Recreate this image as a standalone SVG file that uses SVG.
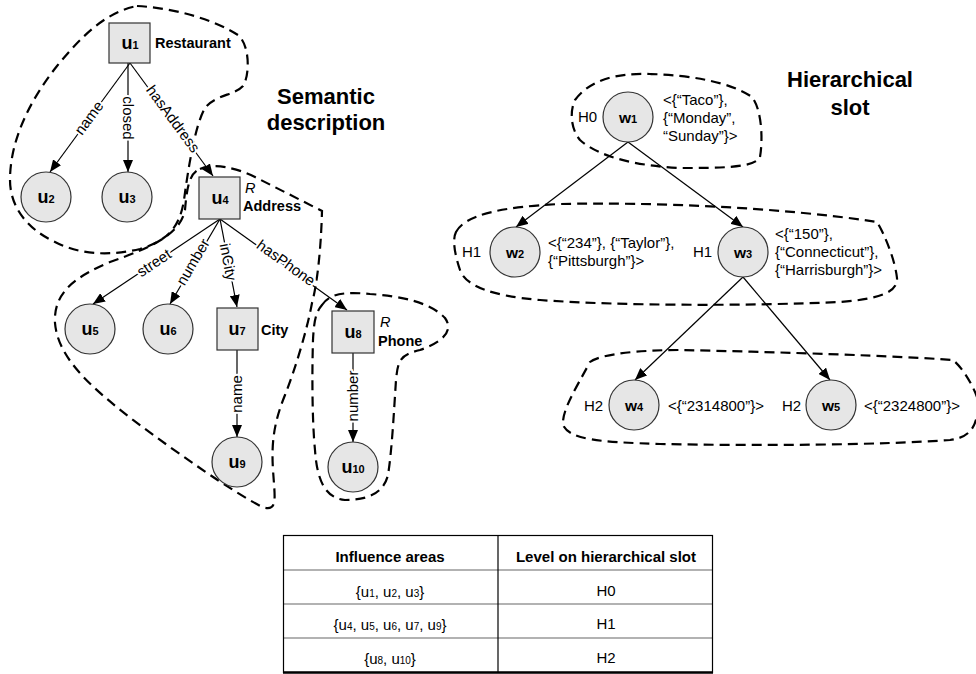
<svg xmlns="http://www.w3.org/2000/svg" width="976" height="674" viewBox="0 0 976 674">
<style>
text{font-family:"Liberation Sans",Arial,sans-serif;fill:#000}
.area{fill:none;stroke:#000;stroke-width:2.2;stroke-dasharray:10 6}
.edge{fill:none;stroke:#000;stroke-width:1.2;marker-end:url(#arr)}
.el{font-size:15px;text-anchor:middle;paint-order:stroke;stroke:#fff;stroke-width:4px;stroke-linejoin:round}
.node{fill:#e6e6e6;stroke:#333;stroke-width:1.2}
.nl{font-size:18px;font-weight:bold;text-anchor:middle}
.wl{font-size:15.5px;font-weight:bold;text-anchor:middle}
.sub{font-size:11px}
.tsub{font-size:10px}
.cls{font-size:14.5px;font-weight:bold}
.r{font-size:14.5px;font-style:italic}
.title{font-size:22px;font-weight:bold;text-anchor:middle}
.val{font-size:15px}
.th{font-size:15px;font-weight:bold;text-anchor:middle}
.td{font-size:15px;text-anchor:middle}
</style>
<defs>
<marker id="arr" markerWidth="12" markerHeight="10" refX="12" refY="5" orient="auto" markerUnits="userSpaceOnUse">
<path d="M0,0 L12,5 L0,10 z" fill="#000"/>
</marker>
</defs>
<rect width="976" height="674" fill="#fff"/>

<g id="areas">
<path class="area" d="M137,6 C175,8 215,20 238,35 C250,45 250,75 243,86 C235,95 215,95 205,108 C195,125 188,170 184,200 C180,225 170,240 140,249 C110,256 80,255 55,242 C25,228 10,205 10,180 C10,140 30,100 57,66 C80,38 105,12 137,6 Z"/>
<path class="area" d="M200,169 C212,163 235,167 255,177 L322,211 C321,250 317,285 312,303 C307,330 295,370 285,395 C275,420 271,440 273,470 C275,500 278,512 262,507 C230,490 180,455 133,420 C95,390 58,360 55,323 C53,290 80,275 110,262 C150,248 180,235 185,210 C187,185 190,173 200,169 Z"/>
<path class="area" d="M322,305 C330,292 350,292 370,294 C400,296 430,302 445,318 C455,332 440,343 420,350 C400,355 398,360 396,380 C394,410 392,450 388,475 C383,495 365,500 345,500 C325,498 317,480 315,450 C312,420 312,370 313,340 C314,320 316,312 322,305 Z"/>
<path class="area" d="M575,100 C590,80 615,73 650,74 C690,75 730,82 752,97 C762,110 763,140 760,157 C755,168 720,168 680,168 C640,166 600,158 580,140 C570,128 570,110 575,100 Z"/>
<path class="area" d="M456,232 C465,215 500,207 560,204 C650,202 780,207 877,222 C885,235 895,260 897,278 C898,292 880,299 840,302 C750,306 620,306 540,300 C490,296 465,285 460,270 C455,255 452,240 456,232 Z"/>
<path class="area" d="M590,362 C600,354 640,350 680,350 C780,352 900,356 953,360 C965,370 975,390 978,400 C978,420 975,437 950,440 C880,445 760,446 660,444 C600,442 570,440 563,425 C562,410 575,390 590,362 Z"/>
</g>

<g id="connectors">
<line class="edge" x1="130" y1="63" x2="50" y2="172"/>
<line class="edge" x1="128" y1="63" x2="128" y2="172"/>
<line class="edge" x1="130" y1="63" x2="213" y2="176"/>
<line class="edge" x1="220" y1="219" x2="93" y2="304"/>
<line class="edge" x1="220" y1="219" x2="170" y2="304"/>
<line class="edge" x1="220" y1="219" x2="237" y2="307"/>
<line class="edge" x1="220" y1="219" x2="347" y2="310"/>
<line class="edge" x1="237" y1="350" x2="237" y2="437"/>
<line class="edge" x1="353" y1="353" x2="353" y2="442"/>
<line class="edge" x1="628" y1="142" x2="516" y2="227"/>
<line class="edge" x1="628" y1="142" x2="743" y2="227"/>
<line class="edge" x1="743" y1="277" x2="635" y2="380"/>
<line class="edge" x1="743" y1="277" x2="830" y2="380"/>
<text class="el" transform="translate(89,118) rotate(-53.7)" y="5">name</text>
<text class="el" transform="translate(128,118) rotate(90)" y="5">closed</text>
<text class="el" transform="translate(173,119) rotate(53.7)" y="5">hasAddress</text>
<text class="el" transform="translate(154,263) rotate(-33.8)" y="5">street</text>
<text class="el" transform="translate(193,262) rotate(-59.5)" y="5">number</text>
<text class="el" transform="translate(228,262) rotate(79)" y="5">inCity</text>
<text class="el" transform="translate(286,263) rotate(35.6)" y="5">hasPhone</text>
<text class="el" transform="translate(237,394) rotate(-90)" y="5">name</text>
<text class="el" transform="translate(353,396) rotate(-90)" y="5">number</text>
</g>

<g id="u1"><rect class="node" x="109" y="23" width="41" height="40"/><text class="nl" x="130" y="49">u<tspan class="sub">1</tspan></text><text class="cls" x="155" y="48">Restaurant</text></g>
<g id="u2"><circle class="node" cx="46" cy="197" r="25"/><text class="nl" x="46" y="203">u<tspan class="sub">2</tspan></text></g>
<g id="u3"><circle class="node" cx="127" cy="197" r="25"/><text class="nl" x="127" y="203">u<tspan class="sub">3</tspan></text></g>
<g id="u4"><rect class="node" x="199" y="177" width="41" height="42"/><text class="nl" x="220" y="204">u<tspan class="sub">4</tspan></text><text class="r" x="245" y="193">R</text><text class="cls" x="243" y="211">Address</text></g>
<g id="u5"><circle class="node" cx="90" cy="329" r="25"/><text class="nl" x="90" y="335">u<tspan class="sub">5</tspan></text></g>
<g id="u6"><circle class="node" cx="168" cy="329" r="25"/><text class="nl" x="168" y="335">u<tspan class="sub">6</tspan></text></g>
<g id="u7"><rect class="node" x="217" y="308" width="41" height="42"/><text class="nl" x="237" y="335">u<tspan class="sub">7</tspan></text><text class="cls" x="261" y="335">City</text></g>
<g id="u8"><rect class="node" x="332" y="311" width="42" height="42"/><text class="nl" x="353" y="338">u<tspan class="sub">8</tspan></text><text class="r" x="380" y="327">R</text><text class="cls" x="378" y="346">Phone</text></g>
<g id="u9"><circle class="node" cx="237" cy="462" r="25"/><text class="nl" x="237" y="468">u<tspan class="sub">9</tspan></text></g>
<g id="u10"><circle class="node" cx="353" cy="467" r="25"/><text class="nl" x="353" y="473">u<tspan class="sub">10</tspan></text></g>

<g id="title-semantic"><text class="title" x="326" y="104">Semantic</text><text class="title" x="326" y="130">description</text></g>
<g id="title-slot"><text class="title" x="850" y="87">Hierarchical</text><text class="title" x="850" y="115">slot</text></g>

<g id="w1"><circle class="node" cx="628" cy="117" r="25"/><text class="wl" x="628" y="123">w<tspan class="sub">1</tspan></text><text class="val" x="578" y="122">H0</text><text class="val" x="663" y="105">&lt;{“Taco”},</text><text class="val" x="663" y="123">{“Monday”,</text><text class="val" x="663" y="141">“Sunday”}&gt;</text></g>
<g id="w2"><circle class="node" cx="515" cy="252" r="25"/><text class="wl" x="515" y="258">w<tspan class="sub">2</tspan></text><text class="val" x="462" y="257">H1</text><text class="val" x="548" y="248">&lt;{“234”}, {“Taylor”},</text><text class="val" x="548" y="266">{“Pittsburgh”}&gt;</text></g>
<g id="w3"><circle class="node" cx="743" cy="252" r="25"/><text class="wl" x="743" y="258">w<tspan class="sub">3</tspan></text><text class="val" x="693" y="257">H1</text><text class="val" x="775" y="239">&lt;{“150”},</text><text class="val" x="775" y="257">{“Connecticut”},</text><text class="val" x="775" y="275">{“Harrisburgh”}&gt;</text></g>
<g id="w4"><circle class="node" cx="634" cy="405" r="25"/><text class="wl" x="634" y="411">w<tspan class="sub">4</tspan></text><text class="val" x="584" y="411">H2</text><text class="val" x="668" y="411">&lt;{“2314800”}&gt;</text></g>
<g id="w5"><circle class="node" cx="831" cy="405" r="25"/><text class="wl" x="831" y="411">w<tspan class="sub">5</tspan></text><text class="val" x="782" y="411">H2</text><text class="val" x="864" y="411">&lt;{“2324800”}&gt;</text></g>

<g id="table">
<line x1="283" y1="570" x2="712" y2="570" stroke="#666" stroke-width="1.2"/>
<line x1="283" y1="604" x2="712" y2="604" stroke="#666" stroke-width="1.2"/>
<line x1="283" y1="638" x2="712" y2="638" stroke="#666" stroke-width="1.2"/>
<line x1="498" y1="535" x2="498" y2="673" stroke="#000" stroke-width="1.2"/>
<rect x="283.5" y="535.5" width="429" height="137" fill="none" stroke="#000" stroke-width="1.2"/>
<line x1="283" y1="672.5" x2="713" y2="672.5" stroke="#000" stroke-width="2.5"/>
<text class="th" x="390" y="562">Influence areas</text>
<text class="th" x="606" y="562">Level on hierarchical slot</text>
<text class="td" x="390" y="597">{u<tspan class="tsub">1</tspan>, u<tspan class="tsub">2</tspan>, u<tspan class="tsub">3</tspan>}</text>
<text class="td" x="390" y="630">{u<tspan class="tsub">4</tspan>, u<tspan class="tsub">5</tspan>, u<tspan class="tsub">6</tspan>, u<tspan class="tsub">7</tspan>, u<tspan class="tsub">9</tspan>}</text>
<text class="td" x="390" y="664">{u<tspan class="tsub">8</tspan>, u<tspan class="tsub">10</tspan>}</text>
<text class="td" x="606" y="596">H0</text>
<text class="td" x="606" y="629">H1</text>
<text class="td" x="606" y="663">H2</text>
</g>
</svg>
